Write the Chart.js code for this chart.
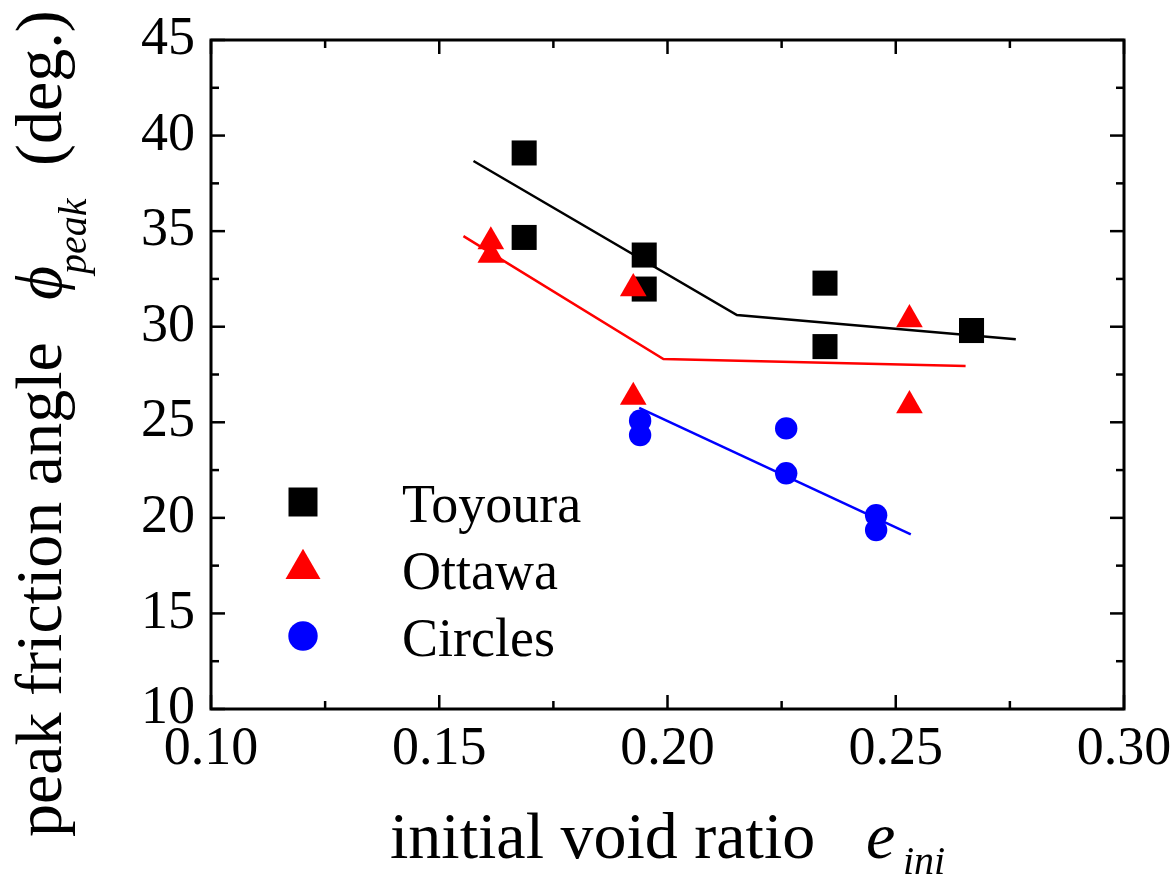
<!DOCTYPE html>
<html>
<head>
<meta charset="utf-8">
<script src="https://cdn.jsdelivr.net/npm/chart.js@4.4.0/dist/chart.umd.min.js"></script>
<style>
  html, body { margin: 0; padding: 0; background: #ffffff; }
  #wrap { width: 1174px; height: 880px; position: relative; }
</style>
</head>
<body>
<div id="wrap"><canvas id="c"></canvas></div>
<script>
// Measured peak friction angle against initial void ratio
const seriesNames = ['Toyoura', 'Ottawa', 'Circles'];

const toyouraE   = [0.1686, 0.1686, 0.1949, 0.1949, 0.2345, 0.2345, 0.2666];
const toyouraPhi = [39.09, 34.67, 33.75, 31.97, 32.28, 28.96, 29.80];

const ottawaE    = [0.1613, 0.1613, 0.1925, 0.1925, 0.2530, 0.2530];
const ottawaPhi  = [34.45, 33.75, 32.00, 26.32, 30.38, 25.88];

const circlesE   = [0.1940, 0.1940, 0.2260, 0.2260, 0.2457, 0.2457];
const circlesPhi = [25.08, 24.33, 24.68, 22.33, 20.14, 19.36];

// Trend lines
const toyouraFitE   = [0.1575, 0.2152, 0.2763];
const toyouraFitPhi = [38.67, 30.61, 29.34];
const ottawaFitE    = [0.1553, 0.1991, 0.2653];
const ottawaFitPhi  = [34.74, 28.31, 27.94];
const circlesFitE   = [0.1938, 0.2533];
const circlesFitPhi = [25.76, 19.13];

// Axis ticks
const xTicks = [0.10, 0.15, 0.20, 0.25, 0.30];
const yTicks = [10, 15, 20, 25, 30, 35, 40, 45];

const SERIF = "'Liberation Serif', 'Times New Roman', serif";
Chart.defaults.font.family = SERIF;
Chart.defaults.color = '#000';

const pts = (xs, ys) => xs.map((v, i) => ({ x: v, y: ys[i] }));

// Frame around the plot with inward major/minor ticks on all four sides
const framePlugin = {
  id: 'frame',
  afterDatasetsDraw(chart) {
    const { ctx, chartArea: a } = chart;
    const sx = chart.scales.x, sy = chart.scales.y;
    ctx.save();
    ctx.strokeStyle = '#000';
    ctx.lineWidth = 3;
    ctx.strokeRect(a.left, a.top, a.right - a.left, a.bottom - a.top);
    ctx.lineWidth = 2.5;
    const seg = (x1, y1, x2, y2) => { ctx.beginPath(); ctx.moveTo(x1, y1); ctx.lineTo(x2, y2); ctx.stroke(); };
    const major = 14, minor = 8;
    const xMark = (px, len) => { seg(px, a.bottom, px, a.bottom - len); seg(px, a.top, px, a.top + len); };
    const yMark = (py, len) => { seg(a.left, py, a.left + len, py); seg(a.right, py, a.right - len, py); };
    xTicks.forEach((v, i) => {
      xMark(sx.getPixelForValue(v), major);
      if (i < xTicks.length - 1) xMark(sx.getPixelForValue((v + xTicks[i + 1]) / 2), minor);
    });
    yTicks.forEach((v, i) => {
      yMark(sy.getPixelForValue(v), major);
      if (i < yTicks.length - 1) yMark(sy.getPixelForValue((v + yTicks[i + 1]) / 2), minor);
    });
    ctx.restore();
  }
};

// Legend inside the plot area
const legendPlugin = {
  id: 'insideLegend',
  afterDraw(chart) {
    const ctx = chart.ctx;
    const rows = [
      { x: 303, y: 502 },
      { x: 303, y: 569 },
      { x: 303, y: 636 }
    ];
    ctx.save();
    chart.data.datasets.filter(d => d.isSeries).forEach((d, i) => {
      const r = rows[i];
      ctx.fillStyle = d.pointBackgroundColor;
      Chart.helpers.drawPoint(ctx, {
        pointStyle: d.pointStyle,
        radius: d.legendRadius,
        rotation: 0,
        borderWidth: 0
      }, r.x, r.y);
      ctx.fillStyle = '#000';
      ctx.font = '54px ' + SERIF;
      ctx.textAlign = 'left';
      ctx.textBaseline = 'alphabetic';
      ctx.fillText(d.label, 402, r.y + 20);
    });
    ctx.restore();
  }
};

// Axis titles with italic symbols and subscripts
const titlePlugin = {
  id: 'axisTitles',
  afterDraw(chart) {
    const ctx = chart.ctx;
    ctx.save();
    ctx.fillStyle = '#000';
    ctx.textAlign = 'left';
    ctx.textBaseline = 'alphabetic';

    ctx.font = '66px ' + SERIF;
    ctx.fillText('initial void ratio', 390, 858);
    ctx.font = 'italic 66px ' + SERIF;
    ctx.fillText('e', 866, 858);
    ctx.font = 'italic 40px ' + SERIF;
    ctx.fillText('ini', 903, 874);

    ctx.translate(61, 0);
    ctx.rotate(-Math.PI / 2);
    ctx.font = '66px ' + SERIF;
    ctx.fillText('peak friction angle', -837, 0);
    ctx.font = "italic 66px 'Liberation Serif', 'DejaVu Serif', serif";
    ctx.fillText('\u03D5', -300, 0);
    ctx.font = 'italic 40px ' + SERIF;
    ctx.fillText('peak', -274, 25);
    ctx.font = '66px ' + SERIF;
    ctx.fillText('(deg.)', -166, 0);
    ctx.restore();
  }
};

const lineDs = (xs, ys, color) => ({
  type: 'line',
  data: pts(xs, ys),
  borderColor: color,
  borderWidth: 2.5,
  pointRadius: 0,
  fill: false,
  tension: 0,
  order: 0
});

const markDs = (label, xs, ys, color, style, radius, legendRadius, order) => ({
  label,
  isSeries: true,
  data: pts(xs, ys),
  pointStyle: style,
  pointRadius: radius,
  pointHoverRadius: radius,
  pointBackgroundColor: color,
  pointBorderColor: color,
  pointBorderWidth: 0,
  backgroundColor: color,
  borderColor: color,
  showLine: false,
  legendRadius,
  order
});

const tickFont = { family: SERIF, size: 54, style: 'normal', weight: 'normal' };

new Chart(document.getElementById('c'), {
  type: 'scatter',
  data: {
    datasets: [
      markDs(seriesNames[0], toyouraE, toyouraPhi, '#000000', 'rect', 17.7, 20.5, 3),
      markDs(seriesNames[1], ottawaE, ottawaPhi, '#ff0000', 'triangle', 15.4, 20.2, 1),
      markDs(seriesNames[2], circlesE, circlesPhi, '#0000ff', 'circle', 11.2, 14.7, 2),
      lineDs(toyouraFitE, toyouraFitPhi, '#000000'),
      lineDs(ottawaFitE, ottawaFitPhi, '#ff0000'),
      lineDs(circlesFitE, circlesFitPhi, '#0000ff')
    ]
  },
  options: {
    responsive: true,
    maintainAspectRatio: false,
    animation: false,
    events: [],
    layout: { padding: { top: 40, right: 50, left: 0, bottom: 0 } },
    plugins: {
      legend: { display: false },
      tooltip: { enabled: false }
    },
    scales: {
      x: {
        type: 'linear',
        min: 0.10,
        max: 0.30,
        grid: { display: false, drawTicks: false },
        border: { display: false },
        afterBuildTicks: s => { s.ticks = xTicks.map(v => ({ value: v })); },
        afterFit: s => { s.height = 171; s.paddingLeft = 0; s.paddingRight = 0; },
        ticks: {
          autoSkip: false,
          maxRotation: 0,
          minRotation: 0,
          padding: 8,
          color: '#000',
          font: tickFont,
          callback: v => Number(v).toFixed(2)
        }
      },
      y: {
        type: 'linear',
        min: 10,
        max: 45,
        grid: { display: false, drawTicks: false },
        border: { display: false },
        afterBuildTicks: s => { s.ticks = yTicks.map(v => ({ value: v })); },
        afterFit: s => { s.width = 211; s.paddingTop = 0; s.paddingBottom = 0; },
        ticks: {
          autoSkip: false,
          padding: 16,
          color: '#000',
          font: tickFont,
          callback: v => String(v)
        }
      }
    }
  },
  plugins: [framePlugin, legendPlugin, titlePlugin]
});
</script>
</body>
</html>
